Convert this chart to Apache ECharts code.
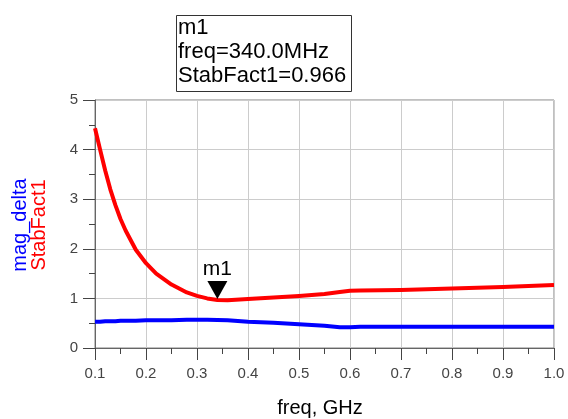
<!DOCTYPE html>
<html>
<head>
<meta charset="utf-8">
<script src="https://cdn.jsdelivr.net/npm/echarts@6/dist/echarts.min.js"></script>
<style>
  html, body { margin: 0; padding: 0; background: #fff; }
  #chart { width: 568px; height: 419px; }
</style>
</head>
<body>
<div id="chart"></div>
<script>
// values
const freq = [0.1, 0.11, 0.12, 0.13, 0.14, 0.15, 0.16, 0.18, 0.2, 0.22, 0.25, 0.28, 0.3, 0.32, 0.34, 0.36, 0.4, 0.45, 0.5, 0.55, 0.58, 0.6, 0.62, 0.7, 0.8, 0.9, 1.0];
const stabFact1 = [4.43, 4.0, 3.58, 3.2, 2.88, 2.6, 2.37, 1.98, 1.71, 1.5, 1.28, 1.12, 1.05, 1.0, 0.968, 0.965, 0.99, 1.02, 1.05, 1.09, 1.13, 1.155, 1.16, 1.17, 1.2, 1.23, 1.27];
const magDelta = [0.53, 0.53, 0.54, 0.54, 0.54, 0.55, 0.55, 0.55, 0.56, 0.56, 0.56, 0.57, 0.57, 0.57, 0.565, 0.56, 0.53, 0.51, 0.48, 0.45, 0.42, 0.42, 0.43, 0.43, 0.43, 0.43, 0.43];
const marker = { name: 'm1', freq: 0.34, value: 0.966 };
const boxLines = ['m1', 'freq=340.0MHz', 'StabFact1=0.966'];

const font = 'Liberation Sans, Arial, sans-serif';
const chart = echarts.init(document.getElementById('chart'));

const pairs = (ys) => freq.map((f, i) => [f, ys[i]]);

chart.setOption({
  animation: false,
  backgroundColor: '#fff',
  grid: {
    left: 95, right: 14, top: 100, bottom: 71,
    show: true, borderColor: '#808080', borderWidth: 1
  },
  xAxis: {
    type: 'value', min: 0.1, max: 1.0, interval: 0.1,
    axisLine: { lineStyle: { color: '#666', width: 1 } },
    axisTick: { length: 12, lineStyle: { color: '#444' } },
    minorTick: { show: true, splitNumber: 2, length: 6, lineStyle: { color: '#444' } },
    splitLine: { lineStyle: { color: '#ccc' } },
    axisLabel: {
      color: '#444', fontSize: 15, fontFamily: font, margin: 18,
      formatter: (v) => v.toFixed(1)
    }
  },
  yAxis: {
    type: 'value', min: 0, max: 5, interval: 1,
    axisLine: { show: true, lineStyle: { color: '#666', width: 1 } },
    axisTick: { show: true, length: 12, lineStyle: { color: '#444' } },
    minorTick: { show: true, splitNumber: 2, length: 6, lineStyle: { color: '#444' } },
    splitLine: { lineStyle: { color: '#ccc' } },
    axisLabel: { color: '#444', fontSize: 15, fontFamily: font, margin: 17 }
  },
  graphic: [
    {
      type: 'rect', left: 176, top: 15,
      shape: { width: 175, height: 76 },
      style: { fill: '#fff', stroke: '#333', lineWidth: 1 }
    },
    {
      type: 'text', left: 178, top: 16,
      style: { text: boxLines.join('\n'), font: '22px ' + font, fill: '#000', lineHeight: 24 }
    },
    {
      type: 'text', x: 20, y: 225, rotation: Math.PI / 2,
      style: { text: 'mag_delta', font: '20px ' + font, fill: '#0000ff', align: 'center', verticalAlign: 'middle' }
    },
    {
      type: 'text', x: 39, y: 225, rotation: Math.PI / 2,
      style: { text: 'StabFact1', font: '20px ' + font, fill: '#ff0000', align: 'center', verticalAlign: 'middle' }
    },
    {
      type: 'text', x: 320, y: 408,
      style: { text: 'freq, GHz', font: '20px ' + font, fill: '#000', align: 'center', verticalAlign: 'middle' }
    }
  ],
  series: [
    {
      name: 'mag_delta', type: 'line', data: pairs(magDelta),
      symbol: 'none', lineStyle: { color: '#0000ff', width: 4 }
    },
    {
      name: 'StabFact1', type: 'line', data: pairs(stabFact1),
      symbol: 'none', lineStyle: { color: '#ff0000', width: 4, join: 'round' },
      markPoint: {
        data: [{ coord: [marker.freq, marker.value], name: marker.name }],
        symbol: 'triangle', symbolRotate: 180, symbolSize: [20, 18], symbolOffset: [0, -10],
        itemStyle: { color: '#000' },
        label: {
          show: true, position: 'top', distance: 1,
          formatter: marker.name, color: '#000', fontSize: 21, fontFamily: font
        }
      }
    }
  ]
});
</script>
</body>
</html>
